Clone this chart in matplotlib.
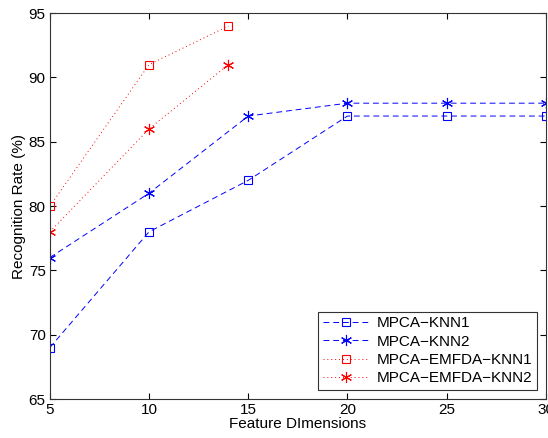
import matplotlib
matplotlib.use("Agg")
import matplotlib.pyplot as plt

plt.rcParams["font.family"] = ["Liberation Sans", "DejaVu Sans"]

# ── data ──────────────────────────────────────────────────────────────────────
dims = [5, 10, 15, 20, 25, 30]
knn1 = [69, 78, 82, 87, 87, 87]
knn2 = [76, 81, 87, 88, 88, 88]

dims_emfda = [5, 10, 14]
emfda_knn1 = [80, 91, 94]
emfda_knn2 = [78, 86, 91]

# ── plot ──────────────────────────────────────────────────────────────────────
fig = plt.figure(figsize=(5.48, 4.38), dpi=100)
ax = fig.add_axes([0.091, 0.089, 0.905, 0.881])

star = (6, 2, 0)  # MATLAB-style asterisk with a vertical spoke
ax.plot(dims, knn1, color="blue", linestyle=(0, (6, 4)), linewidth=0.7,
        marker="s", markersize=6, markerfacecolor="none", markeredgewidth=0.8,
        label="MPCA\u2212KNN1")
ax.plot(dims, knn2, color="blue", linestyle=(0, (6, 4)), linewidth=0.7,
        marker=star, markersize=8, markeredgewidth=0.8,
        label="MPCA\u2212KNN2")
ax.plot(dims_emfda, emfda_knn1, color="red", linestyle=(0, (1, 3)), linewidth=0.7,
        marker="s", markersize=6, markerfacecolor="none", markeredgewidth=0.8,
        label="MPCA\u2212EMFDA\u2212KNN1")
ax.plot(dims_emfda, emfda_knn2, color="red", linestyle=(0, (1, 3)), linewidth=0.7,
        marker=star, markersize=8, markeredgewidth=0.8,
        label="MPCA\u2212EMFDA\u2212KNN2")

ax.set_xlim(5, 30)
ax.set_ylim(65, 95)
ax.set_xticks([5, 10, 15, 20, 25, 30])
ax.set_yticks([65, 70, 75, 80, 85, 90, 95])
ax.tick_params(direction="in", top=True, right=True, labelsize=11, length=4, pad=3)
for s in ax.spines.values():
    s.set_linewidth(0.8)
    s.set_color("#333333")

ax.set_xlabel("Feature DImensions", fontsize=11, labelpad=0)
ax.set_ylabel("Recognition Rate (%)", fontsize=11, labelpad=2)

leg = ax.legend(loc="lower right", fontsize=11, fancybox=False, framealpha=1,
                edgecolor="#333333", handlelength=3, borderaxespad=0.6,
                labelspacing=0.28, handletextpad=0.5, borderpad=0.3)
leg.get_frame().set_linewidth(0.8)

fig.savefig("out.png", dpi=100)
